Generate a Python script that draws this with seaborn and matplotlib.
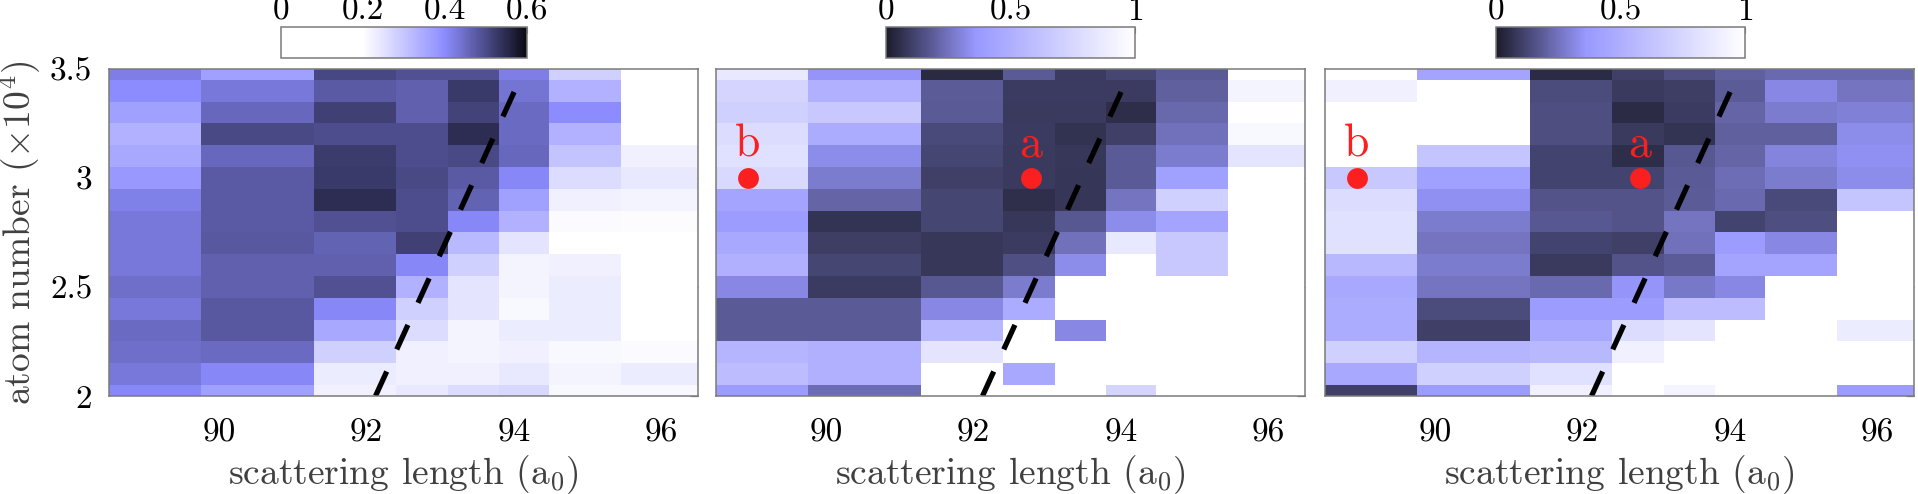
"""Three heatmaps of scattering length vs atom number with colorbars on top."""
import matplotlib.pyplot as plt
import numpy as np
import seaborn as sns
from matplotlib.colors import LinearSegmentedColormap

# column centres (scattering length, a0) and row centres (atom number, x1e4)
scattering_length = [88.93, 90.56, 92.0, 92.8, 93.4, 94.2, 94.76, 96.14]
atom_number = [3.5, 3.4, 3.3, 3.2, 3.1, 3.0, 2.9, 2.8,
               2.7, 2.6, 2.5, 2.4, 2.3, 2.2, 2.1, 2.0]

# rows listed top (3.5) to bottom (2.0)
panel_a = [
    [0.420, 0.365, 0.505, 0.492, 0.492, 0.420, 0.282, 0.150],
    [0.400, 0.431, 0.477, 0.468, 0.526, 0.437, 0.337, 0.150],
    [0.365, 0.455, 0.517, 0.468, 0.511, 0.452, 0.400, 0.150],
    [0.337, 0.502, 0.495, 0.495, 0.545, 0.452, 0.337, 0.150],
    [0.351, 0.455, 0.523, 0.495, 0.502, 0.455, 0.303, 0.226],
    [0.379, 0.477, 0.526, 0.502, 0.477, 0.406, 0.261, 0.240],
    [0.418, 0.477, 0.545, 0.495, 0.462, 0.365, 0.226, 0.219],
    [0.431, 0.477, 0.492, 0.495, 0.406, 0.337, 0.209, 0.205],
    [0.431, 0.480, 0.462, 0.517, 0.323, 0.247, 0.150, 0.150],
    [0.431, 0.468, 0.468, 0.406, 0.282, 0.219, 0.226, 0.150],
    [0.443, 0.468, 0.492, 0.337, 0.247, 0.219, 0.233, 0.150],
    [0.431, 0.480, 0.406, 0.282, 0.247, 0.212, 0.233, 0.150],
    [0.452, 0.480, 0.351, 0.261, 0.219, 0.233, 0.233, 0.150],
    [0.443, 0.452, 0.282, 0.226, 0.219, 0.226, 0.212, 0.209],
    [0.431, 0.406, 0.233, 0.226, 0.226, 0.240, 0.219, 0.233],
    [0.406, 0.365, 0.226, 0.240, 0.261, 0.268, 0.212, 0.212],
]

panel_b = [
    [0.857, 0.348, 0.041, 0.180, 0.093, 0.122, 0.180, 1.000],
    [0.733, 0.509, 0.186, 0.093, 0.093, 0.093, 0.197, 0.932],
    [0.708, 0.658, 0.180, 0.087, 0.087, 0.052, 0.221, 1.000],
    [0.783, 0.484, 0.134, 0.093, 0.064, 0.105, 0.244, 0.957],
    [0.807, 0.325, 0.122, 0.087, 0.081, 0.180, 0.279, 0.832],
    [0.758, 0.279, 0.105, 0.087, 0.075, 0.180, 0.410, 1.000],
    [0.435, 0.209, 0.122, 0.058, 0.075, 0.255, 0.708, 1.000],
    [0.385, 0.070, 0.122, 0.081, 0.174, 0.325, 0.435, 1.000],
    [0.459, 0.099, 0.081, 0.093, 0.244, 0.857, 0.658, 1.000],
    [0.509, 0.122, 0.081, 0.151, 0.325, 1.000, 0.658, 1.000],
    [0.314, 0.093, 0.174, 0.279, 1.000, 1.000, 1.000, 1.000],
    [0.180, 0.180, 0.314, 0.478, 1.000, 1.000, 1.000, 1.000],
    [0.180, 0.180, 0.559, 1.000, 0.314, 1.000, 1.000, 1.000],
    [0.534, 0.509, 0.832, 1.000, 1.000, 1.000, 1.000, 1.000],
    [0.584, 0.509, 1.000, 0.459, 1.000, 1.000, 1.000, 1.000],
    [0.385, 0.232, 1.000, 1.000, 1.000, 0.733, 1.000, 1.000],
]

panel_c = [
    [1.000, 0.435, 0.046, 0.105, 0.151, 0.197, 0.226, 0.226],
    [0.907, 1.000, 0.139, 0.087, 0.099, 0.186, 0.314, 0.255],
    [1.000, 1.000, 0.145, 0.046, 0.093, 0.209, 0.279, 0.290],
    [1.000, 1.000, 0.145, 0.087, 0.070, 0.197, 0.197, 0.325],
    [1.000, 0.633, 0.116, 0.052, 0.174, 0.209, 0.302, 0.337],
    [0.658, 0.410, 0.116, 0.116, 0.180, 0.238, 0.279, 0.325],
    [0.783, 0.337, 0.163, 0.163, 0.186, 0.226, 0.134, 0.633],
    [0.807, 0.279, 0.174, 0.163, 0.255, 0.116, 0.145, 1.000],
    [0.807, 0.255, 0.116, 0.105, 0.244, 0.385, 0.314, 1.000],
    [0.559, 0.279, 0.087, 0.163, 0.186, 0.435, 0.435, 1.000],
    [0.459, 0.255, 0.226, 0.348, 0.267, 0.314, 1.000, 1.000],
    [0.484, 0.139, 0.385, 0.385, 0.584, 0.584, 1.000, 1.000],
    [0.484, 0.105, 0.459, 0.783, 0.832, 1.000, 1.000, 0.882],
    [0.708, 0.534, 0.559, 0.907, 1.000, 1.000, 1.000, 1.000],
    [0.459, 0.708, 0.807, 1.000, 1.000, 1.000, 1.000, 1.000],
    [0.105, 0.385, 0.907, 1.000, 0.932, 1.000, 1.000, 0.385],
]

# dashed guide line and marked points a / b
guide_x = [92.12, 94.05]
guide_y = [2.0, 3.43]
marker_labels = ["a", "b"]
marker_x = [92.78, 88.93]
marker_y = [3.0, 3.0]

x_ticks = [90, 92, 94, 96]
y_ticks = [2, 2.5, 3, 3.5]
y_tick_labels = ["2", "2.5", "3", "3.5"]

sns.set_style("white")
plt.rcParams["font.family"] = ["cmr10", "DejaVu Serif"]
plt.rcParams["mathtext.fontset"] = "cm"
plt.rcParams["axes.formatter.use_mathtext"] = True

RED = "#fb1f1f"
SPINE = "#7a7a7a"
LABEL = "#404040"

cmap_a = sns.blend_palette(["#ffffff", "#ffffff", "#8c8cff", "#0a0a14"], as_cmap=True)
cmap_bc = LinearSegmentedColormap.from_list(
    "bc", [(0.0, "#1c1c2c"), (0.36, "#9898ff"), (1.0, "#ffffff")])


def edges(centres):
    c = np.asarray(centres, dtype=float)
    mid = (c[:-1] + c[1:]) / 2
    return np.concatenate([[c[0] - (mid[0] - c[0])], mid, [c[-1] + (c[-1] - mid[-1])]])


x_edges = edges(scattering_length)
y_edges = edges(atom_number)

fig = plt.figure(figsize=(19.18, 4.94), dpi=100)
W, H = 1918, 494
panel_left = [109, 716, 1325]
cbar_left = [281, 886, 1496]
cbar_width = [246, 249, 249]

panels = [
    (panel_a, cmap_a, 0.6, [0, 0.2, 0.4, 0.6], ["0", "0.2", "0.4", "0.6"], False),
    (panel_b, cmap_bc, 1.0, [0, 0.5, 1], ["0", "0.5", "1"], True),
    (panel_c, cmap_bc, 1.0, [0, 0.5, 1], ["0", "0.5", "1"], True),
]

for i, (values, cmap, vmax, cticks, clabels, marks) in enumerate(panels):
    ax = fig.add_axes([panel_left[i] / W, (H - 396) / H, 589 / W, 327 / H])
    mesh = ax.pcolormesh(x_edges, y_edges, np.array(values), cmap=cmap,
                         vmin=0, vmax=vmax, shading="flat")
    ax.plot(guide_x, guide_y, color="black", lw=3.8, dashes=(5.1, 4.6),
            dash_capstyle="butt")
    if marks:
        for lab, mx, my in zip(marker_labels, marker_x, marker_y):
            ax.plot(mx, my, "o", color=RED, ms=15, mec="none")
            ax.text(mx, my + 0.1, lab, color=RED, fontsize=33,
                    ha="center", va="baseline")
    ax.set_xlim(88.5, 96.5)
    ax.set_ylim(2, 3.5)
    ax.set_xticks(x_ticks)
    ax.set_xticklabels([str(t) for t in x_ticks])
    ax.set_yticks(y_ticks)
    if i == 0:
        ax.set_yticklabels(y_tick_labels)
        ax.set_ylabel(r"atom number ($\times 10^4$)", fontsize=27, color=LABEL)
        ax.yaxis.set_label_coords(-0.112, 0.5)
    else:
        ax.set_yticklabels([])
    ax.set_xlabel(r"scattering length (a$_0$)", fontsize=27, color=LABEL)
    ax.xaxis.set_label_coords(0.5, -0.175)
    ax.tick_params(direction="in", length=6, width=0.9, color=SPINE,
                   top=True, right=True, labelsize=24, labelcolor="black")
    ax.tick_params(axis="x", pad=16)
    ax.tick_params(axis="y", pad=12)
    for sp in ax.spines.values():
        sp.set_color(SPINE)
        sp.set_linewidth(1.1)

    cax = fig.add_axes([cbar_left[i] / W, (H - 58) / H, cbar_width[i] / W, 31 / H])
    cb = fig.colorbar(mesh, cax=cax, orientation="horizontal")
    cb.set_ticks(cticks)
    cb.set_ticklabels(clabels)
    cax.xaxis.set_ticks_position("top")
    cax.tick_params(direction="in", length=4, width=0.8, color=SPINE,
                    labelsize=24, pad=1, labelcolor="black")
    cb.outline.set_edgecolor(SPINE)
    cb.outline.set_linewidth(1.1)

fig.savefig("out.png", dpi=100)
